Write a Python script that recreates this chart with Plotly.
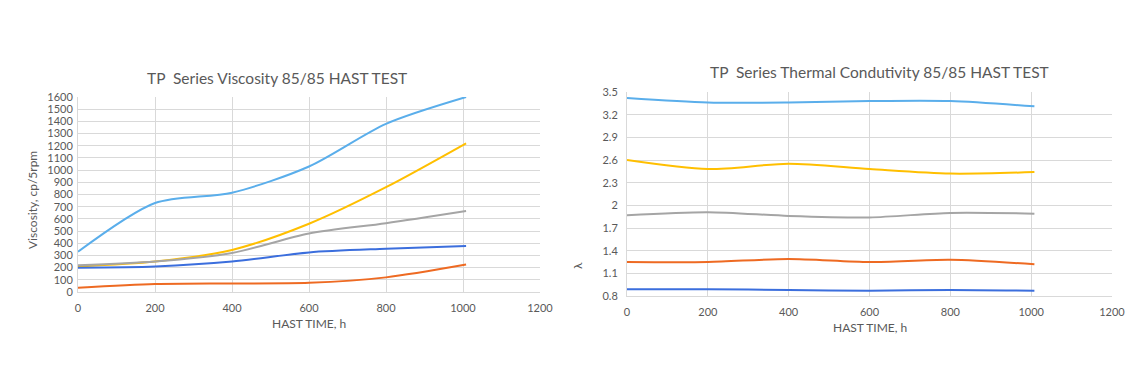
import plotly.graph_objects as go

hours = [0, 200, 400, 600, 800, 1008]
colors = ["#5AAEEB", "#FFBF00", "#A5A5A5", "#3B6EDD", "#EE6A22"]

visc_a = [330, 730, 815, 1030, 1380, 1600]
visc_b = [210, 250, 345, 560, 860, 1220]
visc_c = [220, 250, 320, 480, 565, 665]
visc_d = [200, 210, 250, 325, 355, 378]
visc_e = [35, 65, 70, 75, 120, 225]

tc_a = [3.42, 3.36, 3.36, 3.38, 3.38, 3.31]
tc_b = [2.60, 2.48, 2.55, 2.48, 2.42, 2.44]
tc_c = [1.87, 1.91, 1.86, 1.84, 1.90, 1.89]
tc_e = [1.25, 1.25, 1.29, 1.25, 1.28, 1.22]
tc_d = [0.89, 0.89, 0.88, 0.87, 0.88, 0.87]

visc_ticks = list(range(0, 1601, 100))
tc_ticks = [0.8, 1.1, 1.4, 1.7, 2.0, 2.3, 2.6, 2.9, 3.2, 3.5]
tc_labels = ["0.8", "1.1", "1.4", "1.7", "2", "2.3", "2.6", "2.9", "3.2", "3.5"]
x_ticks = [0, 200, 400, 600, 800, 1000, 1200]

PAGE_W, PAGE_H = 1138, 387
OFF = 8  # default body margin of the page
W, H = PAGE_W - OFF, PAGE_H - OFF
FONT = "Lato"
TICKC = "#595959"
GRID = "#D9D9D9"

fig = go.Figure()

for ys, c in zip([visc_a, visc_b, visc_c, visc_d, visc_e], colors):
    fig.add_trace(go.Scatter(x=hours, y=ys, mode="lines", line=dict(color=c, width=2, shape="spline", smoothing=0.8),
                             xaxis="x", yaxis="y", showlegend=False, hoverinfo="skip"))
for ys, c in zip([tc_a, tc_b, tc_c, tc_d, tc_e], colors):
    fig.add_trace(go.Scatter(x=hours, y=ys, mode="lines", line=dict(color=c, width=2, shape="spline", smoothing=0.8),
                             xaxis="x2", yaxis="y2", showlegend=False, hoverinfo="skip"))

def px_x(p):
    return (p - OFF) / W

def px_y(p):
    return (PAGE_H - p) / H

axis_common = dict(showgrid=True, gridcolor=GRID, gridwidth=1, zeroline=False,
                   showline=True, linecolor=GRID, linewidth=1, ticks="", automargin=False,
                   tickfont=dict(family=FONT, size=11, color=TICKC))

fig.update_layout(
    width=W, height=H,
    margin=dict(l=0, r=0, t=0, b=0),
    paper_bgcolor="white", plot_bgcolor="white",
    xaxis=dict(domain=[px_x(78), px_x(540)], range=[0, 1200], tickvals=x_ticks, anchor="y",
               ticklabelstandoff=6, **axis_common),
    yaxis=dict(domain=[px_y(292), px_y(97)], range=[0, 1600], tickvals=visc_ticks, anchor="x",
               ticklabelstandoff=2, **axis_common),
    xaxis2=dict(domain=[px_x(627), px_x(1112)], range=[0, 1200], tickvals=x_ticks, anchor="y2",
                ticklabelstandoff=6, **axis_common),
    yaxis2=dict(domain=[px_y(296), px_y(92)], range=[0.8, 3.5], tickvals=tc_ticks, ticktext=tc_labels, anchor="x2",
                ticklabelstandoff=6, **axis_common),
)

def ann(text, x, y, size, angle=0, color=TICKC):
    fig.add_annotation(text=text, x=px_x(x), y=px_y(y), xref="paper", yref="paper", showarrow=False,
                       xanchor="center", yanchor="middle", textangle=angle,
                       font=dict(family=FONT, size=size, color=color))

ann("TP  Series Viscosity 85/85 HAST TEST", 277, 78, 15.5)
ann("TP  Series Thermal Condutivity 85/85 HAST TEST", 879, 72, 15.5)
ann("HAST TIME, h", 309, 323, 12)
ann("HAST TIME, h", 870, 327, 12)
ann("Viscosity, cp/5rpm", 32, 200, 12, angle=-90)
ann("λ", 577, 266, 12, angle=-90)

fig.write_html("out.html")
